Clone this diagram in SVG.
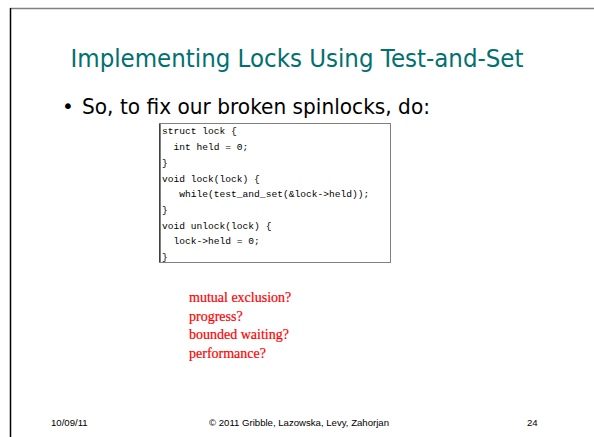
<svg xmlns="http://www.w3.org/2000/svg" width="594" height="437" viewBox="0 0 594 437">
<style>
.code{font-family:"Liberation Mono",monospace;font-size:9.6px;fill:#000;white-space:pre}
.red{font-family:"Liberation Serif",serif;font-size:14px;fill:#ff0000;stroke:#ff0000;stroke-width:0.2}
.foot{font-family:"Liberation Sans",Arial,sans-serif;font-size:9.6px;fill:#000}
</style>
<rect x="0" y="0" width="594" height="437" fill="#fff"/>
<g id="frame">
<line x1="10" y1="8.5" x2="594" y2="8.5" stroke="#808080" stroke-width="1.5"/>
<line x1="10.5" y1="8" x2="10.5" y2="437" stroke="#000" stroke-width="1.5"/>
</g>
<g id="title">
<text x="297" y="66.5" text-anchor="middle" font-family="DejaVu Sans, sans-serif" font-size="24.5" fill="#007070" textLength="453" lengthAdjust="spacingAndGlyphs">Implementing Locks Using Test-and-Set</text>
</g>
<g id="bullet">
<text x="62" y="113" font-family="DejaVu Sans, sans-serif" font-size="20" fill="#000">•</text>
<text x="82" y="113.5" font-family="DejaVu Sans, sans-serif" font-size="21" fill="#000" textLength="348" lengthAdjust="spacingAndGlyphs">So, to fix our broken spinlocks, do:</text>
</g>
<g id="codebox" xml:space="preserve">
<rect x="159.5" y="123.5" width="231" height="139" fill="#fff" stroke="#808080" stroke-width="1"/>
<line x1="160" y1="124" x2="160" y2="262" stroke="#000" stroke-width="1"/>
<text class="code" x="162" y="134">struct lock {</text>
<text class="code" x="162" y="150">  int held = 0;</text>
<text class="code" x="162" y="166">}</text>
<text class="code" x="162" y="182">void lock(lock) {</text>
<text class="code" x="162" y="197">   while(test_and_set(&amp;lock-&gt;held));</text>
<text class="code" x="162" y="213">}</text>
<text class="code" x="162" y="229">void unlock(lock) {</text>
<text class="code" x="162" y="244">  lock-&gt;held = 0;</text>
<text class="code" x="162" y="260">}</text>
</g>
<g id="questions">
<text class="red" x="189" y="302">mutual exclusion?</text>
<text class="red" x="189" y="321">progress?</text>
<text class="red" x="189" y="339">bounded waiting?</text>
<text class="red" x="189" y="358">performance?</text>
</g>
<g id="footer">
<text class="foot" x="51" y="426">10/09/11</text>
<text class="foot" x="299" y="426" text-anchor="middle">© 2011 Gribble, Lazowska, Levy, Zahorjan</text>
<text class="foot" x="527" y="426">24</text>
</g>
</svg>
